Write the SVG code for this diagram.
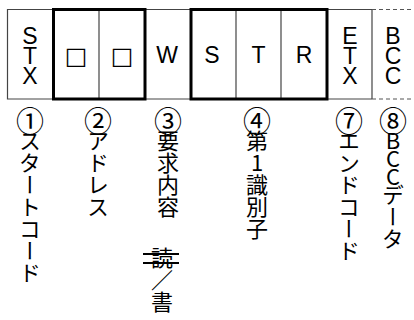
<svg xmlns="http://www.w3.org/2000/svg" width="414" height="320" viewBox="0 0 414 320">
<style>
.thin{fill:none;stroke:#444;stroke-width:1.2}
.dash{fill:none;stroke:#555;stroke-width:1.2;stroke-dasharray:4 3}
.thick{fill:none;stroke:#000;stroke-width:3}
.lat{font-family:"Liberation Sans",Arial,sans-serif;font-size:23px;fill:#000;text-anchor:middle}
.stk{font-family:"Liberation Sans",Arial,sans-serif;font-size:23px;fill:#000;writing-mode:vertical-rl;text-orientation:upright;letter-spacing:-6px}
.sq{font-family:"DejaVu Sans",sans-serif;font-size:24px;fill:#000;text-anchor:middle}
.vt{font-family:"Noto Sans CJK JP",sans-serif;font-size:22px;fill:#000;writing-mode:vertical-rl;text-orientation:upright}
.cd{font-size:28px;letter-spacing:-5px}
.nb{letter-spacing:-4px}
</style>
<rect width="414" height="320" fill="#fff"/>
<g id="connectors">
<path class="thin" d="M372,9.5 H7.5 V99 H372"/>
<line class="thin" x1="99" y1="9.5" x2="99" y2="99"/>
<line class="thin" x1="236" y1="9.5" x2="236" y2="99"/>
<line class="thin" x1="281" y1="9.5" x2="281" y2="99"/>
<line class="thin" x1="372" y1="9.5" x2="372" y2="99"/>
<path class="dash" d="M372,9.5 H414 M372,99 H414"/>
<rect class="thick" x="53.5" y="9.5" width="91.5" height="89.5"/>
<rect class="thick" x="191" y="9.5" width="136" height="89.5"/>
</g>
<g id="n1">
<text class="stk" x="30" y="22.7">STX</text>
<text class="vt" x="30" y="107"><tspan class="cd">①</tspan>スタートコード</text>
</g>
<g id="n2">
<text class="sq" x="76" y="64">□</text>
<text class="sq" x="122" y="64">□</text>
<text class="vt" x="98" y="107"><tspan class="cd">②</tspan>アドレス</text>
</g>
<g id="n3">
<text class="lat" x="167" y="63">W</text>
<text class="vt" x="168" y="107"><tspan class="cd">③</tspan>要求内容</text>
<text class="vt" x="162" y="247">読／書</text>
<line x1="143" y1="254" x2="179" y2="254" stroke="#000" stroke-width="2"/>
<line x1="143" y1="263" x2="179" y2="263" stroke="#000" stroke-width="2"/>
</g>
<g id="n4">
<text class="lat" x="212" y="63">S</text>
<text class="lat" x="258.5" y="63">T</text>
<text class="lat" x="304" y="63">R</text>
<text class="vt" x="257" y="107"><tspan class="cd">④</tspan>第1識別子</text>
</g>
<g id="n7">
<text class="stk" x="350" y="22.7">ETX</text>
<text class="vt" x="349" y="107"><tspan class="cd">⑦</tspan>エンドコード</text>
</g>
<g id="n8">
<text class="stk" x="393" y="22.7">BCC</text>
<text class="vt" x="393" y="107"><tspan class="cd">⑧</tspan><tspan class="nb">BCC</tspan>データ</text>
</g>
</svg>
